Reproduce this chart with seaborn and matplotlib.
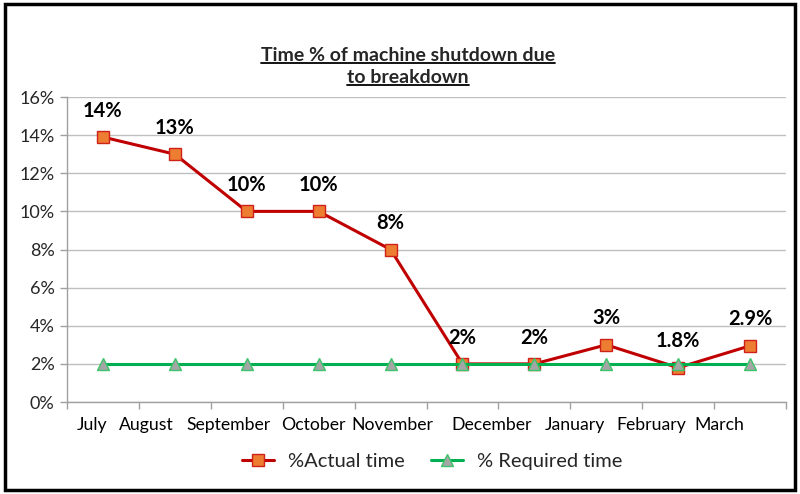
import matplotlib
matplotlib.use("Agg")
import matplotlib.pyplot as plt
import seaborn as sns
import pandas as pd
import numpy as np
from matplotlib.lines import Line2D
from matplotlib.patches import Rectangle

months = ["July", "August", "September", "October", "November",
          "December", "January", "February", "March"]
actual = [13.9, 13.0, 10.0, 10.0, 8.0, 2.0, 2.0, 3.0, 1.8, 2.95]
required = [2, 2, 2, 2, 2, 2, 2, 2, 2, 2]
labels = ["14%", "13%", "10%", "10%", "8%", "2%", "2%", "3%", "1.8%", "2.9%"]
yticks = [0, 2, 4, 6, 8, 10, 12, 14, 16]

# layout: where the month names sit along the category axis
month_label_pos = [-0.15, 0.6, 1.74, 2.93, 4.03, 5.4, 6.56, 7.63, 8.57]

sns.set_theme(style="white")
plt.rcParams['font.family'] = ['Lato', 'DejaVu Sans']

idx = list(range(len(actual)))
df = pd.DataFrame({"idx": idx * 2,
                   "val": actual + required,
                   "series": ["%Actual time"] * len(actual) + ["% Required time"] * len(required)})

fig = plt.figure(figsize=(8, 4.94), dpi=100)
ax = fig.add_axes([0.08375, 0.1862, 0.89875, 0.6174])

sns.lineplot(data=df[df.series == "% Required time"], x="idx", y="val", ax=ax,
             color="#00B050", lw=2.2, marker="^", markersize=9,
             markerfacecolor="#A5A5A5", markeredgecolor="#3CC46A", markeredgewidth=1,
             zorder=3, legend=False)
sns.lineplot(data=df[df.series == "%Actual time"], x="idx", y="val", ax=ax,
             color="#C00000", lw=2.2, marker="s", markersize=8.5,
             markerfacecolor="#ED7D31", markeredgecolor="#D0201A", markeredgewidth=1,
             zorder=2, legend=False)
ax.lines[0].set_zorder(4)

for i, (v, t) in enumerate(zip(actual, labels)):
    ax.annotate(t, (i, v), xytext=(0, 19), textcoords="offset points",
                ha="center", va="center", fontsize=14.5, fontweight="bold", color="black")

ax.set_xlim(-0.5, len(actual) - 0.5)
ax.set_ylim(0, 16)
ax.set_yticks(yticks)
ax.set_yticklabels([f"{t}%" for t in yticks], fontsize=13)
ax.yaxis.grid(True, color="#BFBFBF", lw=1)
ax.set_axisbelow(True)

ax.set_xticks(np.arange(-0.5, len(actual), 1.0))
ax.set_xticklabels([])
ax.tick_params(axis="x", direction="out", length=5, color="#A0A0A0", width=1, bottom=True)
ax.tick_params(axis="y", direction="out", length=5, color="#A0A0A0", width=1, left=True, pad=4)
for p, m in zip(month_label_pos, months):
    ax.text(p, -0.05, m, transform=ax.get_xaxis_transform(), ha="center", va="top",
            fontsize=12.7, color="black")

for s in ["top", "right"]:
    ax.spines[s].set_visible(False)
for s in ["left", "bottom"]:
    ax.spines[s].set_color("#A0A0A0")
    ax.spines[s].set_linewidth(1)
ax.set_xlabel("")
ax.set_ylabel("")

# title with underline
t1 = fig.text(0.51, 0.888, "Time % of machine shutdown due", ha="center", va="center",
              fontsize=14, fontweight="bold")
t2 = fig.text(0.51, 0.843, "to breakdown", ha="center", va="center",
              fontsize=14, fontweight="bold")
fig.canvas.draw()
r = fig.canvas.get_renderer()
for t in (t1, t2):
    bb = t.get_window_extent(renderer=r).transformed(fig.transFigure.inverted())
    y = bb.y0 + 0.002
    fig.add_artist(Line2D([bb.x0, bb.x1], [y, y], color="black", lw=1.3,
                          transform=fig.transFigure))

handles = [
    Line2D([], [], color="#C00000", lw=2.2, marker="s", markersize=8.5,
           markerfacecolor="#ED7D31", markeredgecolor="#D0201A"),
    Line2D([], [], color="#00B050", lw=2.2, marker="^", markersize=9,
           markerfacecolor="#A5A5A5", markeredgecolor="#3CC46A"),
]
fig.legend(handles, ["%Actual time", "% Required time"], loc="center",
           bbox_to_anchor=(0.54, 0.066), ncol=2, frameon=False, fontsize=14.5,
           handlelength=1.6, columnspacing=1.3, handletextpad=0.7)

fig.add_artist(Rectangle((0.006, 0.008), 0.988, 0.984, transform=fig.transFigure,
                         fill=False, edgecolor="black", lw=2.5))

fig.savefig("out.png", dpi=100)
